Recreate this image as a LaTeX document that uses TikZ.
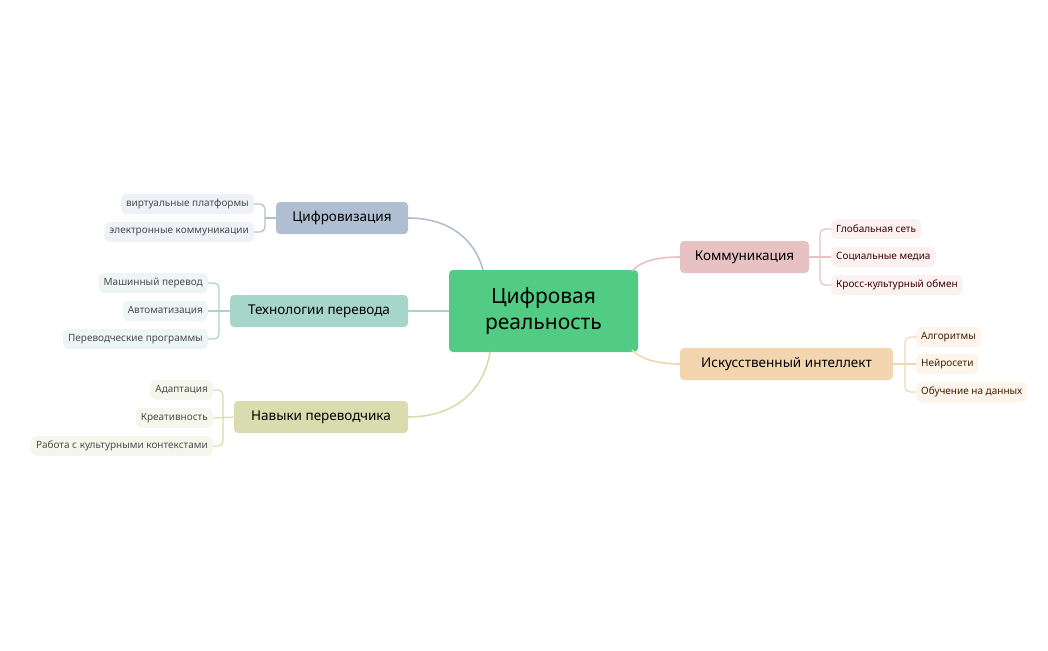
\documentclass[tikz,border=0pt]{standalone}
\usepackage{fontspec}
\setmainfont{Noto Sans}
\begin{document}
\begin{tikzpicture}[x=1pt,y=-1pt,
 br/.style={rounded corners=4pt,minimum height=32pt,inner xsep=12pt,font=\fontsize{13.5}{14}\selectfont,text=black},
 lf/.style={rounded corners=5pt,minimum height=20pt,inner xsep=5pt,font=\fontsize{10}{11}\selectfont},
 ln/.style={line width=1.6pt},
 bk/.style={line width=1.2pt,rounded corners=5pt}]
\useasboundingbox (0,0) rectangle (1048,650);
\definecolor{cC}{HTML}{52CC84}
\definecolor{cA}{HTML}{B0BED2}\definecolor{lA}{HTML}{EEF1F6}
\definecolor{cB}{HTML}{A6D6CA}\definecolor{lB}{HTML}{EDF6F4}
\definecolor{cD}{HTML}{D9DCAE}\definecolor{lD}{HTML}{F6F7EC}
\definecolor{cE}{HTML}{E8C2C2}\definecolor{lE}{HTML}{FBF1F0}
\definecolor{cF}{HTML}{F3D5B0}\definecolor{lF}{HTML}{FDF4EC}
\node[fill=cC,rounded corners=4pt,minimum width=189pt,minimum height=82pt,align=center,font=\fontsize{21}{26}\selectfont] (c) at (543.5,311) {Цифровая\\реальность};
\node[br,fill=cA,minimum width=132pt] (a) at (342,218) {Цифровизация};
\node[br,fill=cB,minimum width=178pt] (b) at (319,311) {Технологии перевода};
\node[br,fill=cD,minimum width=174pt] (d) at (321,417) {Навыки переводчика};
\node[br,fill=cE,minimum width=129pt] (e) at (744.5,257) {Коммуникация};
\node[br,fill=cF,minimum width=213pt] (f) at (786.5,364) {Искусственный интеллект};
\draw[ln,cA] (a.east) .. controls (450,218) and (475,240) .. (483,270);
\draw[ln,cB] (b.east) -- (c.west|-b.east);
\draw[ln,cD] (d.east) .. controls (460,417) and (485,385) .. (490,352);
\draw[ln,cE] (e.west) .. controls (660,257) and (642,260) .. (632,271);
\draw[ln,cF] (f.west) .. controls (660,364) and (642,360) .. (632,350);
% leaves A
\node[lf,fill=lA,text=black!70,anchor=east] (a1) at (254,204) {виртуальные платформы};
\node[lf,fill=lA,text=black!70,anchor=east] (a2) at (254,232) {электронные коммуникации};
\coordinate (ja) at (265,218);
\draw[bk,cA] (a1.east) -| (ja) |- (a2.east); \draw[bk,cA] (ja) -- (a.west);
% leaves B
\node[lf,fill=lB,text=black!70,anchor=east] (b1) at (208,283) {Машинный перевод};
\node[lf,fill=lB,text=black!70,anchor=east] (b2) at (208,311) {Автоматизация};
\node[lf,fill=lB,text=black!70,anchor=east] (b3) at (208,339) {Переводческие программы};
\coordinate (jb) at (219,311);
\draw[bk,cB] (b1.east) -| (jb) |- (b3.east); \draw[bk,cB] (b2.east) -- (b.west);
% leaves D
\node[lf,fill=lD,text=black!70,anchor=east] (d1) at (213,390) {Адаптация};
\node[lf,fill=lD,text=black!70,anchor=east] (d2) at (213,418) {Креативность};
\node[lf,fill=lD,text=black!70,anchor=east] (d3) at (213,446) {Работа с культурными контекстами};
\coordinate (jd) at (223,417);
\draw[bk,cD] (d1.east) -| (jd) |- (d3.east); \draw[bk,cD] (d2.east) -- (d.west);
% leaves E
\node[lf,fill=lE,text=black!75!red,anchor=west] (e1) at (831,229) {Глобальная сеть};
\node[lf,fill=lE,text=black!75!red,anchor=west] (e2) at (831,257) {Социальные медиа};
\node[lf,fill=lE,text=black!75!red,anchor=west] (e3) at (831,285) {Кросс-культурный обмен};
\coordinate (je) at (820,257);
\draw[bk,cE] (e1.west) -| (je) |- (e3.west); \draw[bk,cE] (e.east) -- (e2.west);
% leaves F
\node[lf,fill=lF,text=black!75!orange,anchor=west] (f1) at (916,337) {Алгоритмы};
\node[lf,fill=lF,text=black!75!orange,anchor=west] (f2) at (916,364) {Нейросети};
\node[lf,fill=lF,text=black!75!orange,anchor=west] (f3) at (916,392) {Обучение на данных};
\coordinate (jf) at (905,364);
\draw[bk,cF] (f1.west) -| (jf) |- (f3.west); \draw[bk,cF] (f.east) -- (f2.west);
\end{tikzpicture}
\end{document}
